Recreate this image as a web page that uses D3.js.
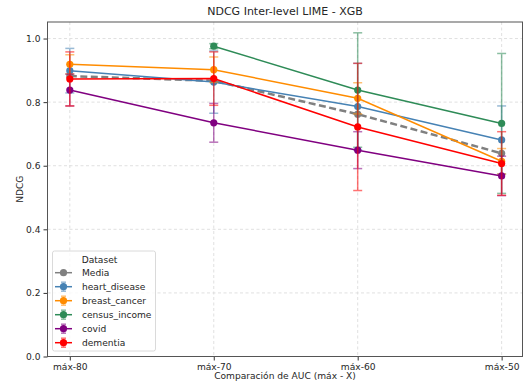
<!DOCTYPE html>
<html>
<head>
<meta charset="utf-8">
<script src="https://cdn.jsdelivr.net/npm/d3@7"></script>
<style>
  body { margin: 0; background: #fff; }
  text { font-family: "DejaVu Sans", sans-serif; fill: #262626; }
</style>
</head>
<body>
<div id="chart"></div>
<script>
// categories on the x axis
const categories = ["máx-80", "máx-70", "máx-60", "máx-50"];

// mean NDCG per dataset (null = no value)
const mediaValues    = [0.882, 0.867, 0.762, 0.639];
const heartValues    = [0.899, 0.863, 0.786, 0.681];
const breastValues   = [0.919, 0.902, 0.812, 0.614];
const censusValues   = [null, 0.976, 0.838, 0.733];
const covidValues    = [0.838, 0.735, 0.649, 0.568];
const dementiaValues = [0.873, 0.874, 0.722, 0.607];

// std deviations (error bars)
const heartStd    = [0.070, 0.098, 0.136, 0.107];
const breastStd   = [0.030, 0.040, 0.049, 0.040];
const censusStd   = [null, 0.008, 0.180, 0.220];
const covidStd    = [0.050, 0.061, 0.058, 0.062];
const dementiaStd = [0.085, 0.084, 0.200, 0.100];

const yTicks = [0.0, 0.2, 0.4, 0.6, 0.8, 1.0];

const series = [
  { name: "Media", values: mediaValues, std: null, color: "#808080", dash: "7,3.5", width: 2.5 },
  { name: "heart_disease", values: heartValues, std: heartStd, color: "#4682b4" },
  { name: "breast_cancer", values: breastValues, std: breastStd, color: "#ff8c00" },
  { name: "census_income", values: censusValues, std: censusStd, color: "#2e8b57" },
  { name: "covid", values: covidValues, std: covidStd, color: "#800080" },
  { name: "dementia", values: dementiaValues, std: dementiaStd, color: "#ff0000" }
];

const W = 528, H = 381;
const mLeft = 47.5, mRight = 522.5, mTop = 22, mBottom = 356.5;

const svg = d3.select("#chart").append("svg")
  .attr("width", W).attr("height", H);

const x = d3.scaleLinear().domain([-0.155, 3.145]).range([mLeft, mRight]);
const y = d3.scaleLinear().domain([0, 1.052]).range([mBottom, mTop]);

// grid
const grid = svg.append("g");
grid.selectAll("line.gx").data(categories).join("line")
  .attr("x1", (d, i) => x(i)).attr("x2", (d, i) => x(i))
  .attr("y1", mTop).attr("y2", mBottom)
  .attr("stroke", "#d8d8d8").attr("stroke-width", 0.8).attr("stroke-dasharray", "3,2.5");
grid.selectAll("line.gy").data(yTicks).join("line")
  .attr("x1", mLeft).attr("x2", mRight)
  .attr("y1", d => y(d)).attr("y2", d => y(d))
  .attr("stroke", "#d8d8d8").attr("stroke-width", 0.8).attr("stroke-dasharray", "3,2.5");

// axes
const xAxis = svg.append("g")
  .attr("transform", `translate(0,${mBottom})`)
  .call(d3.axisBottom(x).tickValues([0, 1, 2, 3]).tickFormat(i => categories[i]).tickSize(4).tickPadding(3));
const yAxis = svg.append("g")
  .attr("transform", `translate(${mLeft},0)`)
  .call(d3.axisLeft(y).tickValues(yTicks).tickFormat(d3.format(".1f")).tickSize(4).tickPadding(3));
[xAxis, yAxis].forEach(a => {
  a.select(".domain").remove();
  a.selectAll("line").attr("stroke", "#333");
  a.selectAll("text").style("font-size", "9.1px").attr("fill", "#262626");
});

// frame
svg.append("rect")
  .attr("x", mLeft).attr("y", mTop)
  .attr("width", mRight - mLeft).attr("height", mBottom - mTop)
  .attr("fill", "none").attr("stroke", "#555").attr("stroke-width", 1);

// series
const plot = svg.append("g");
series.forEach(s => {
  const pts = s.values.map((v, i) => ({ i, v, e: s.std ? s.std[i] : null })).filter(p => p.v !== null);
  const g = plot.append("g");
  if (s.std) {
    const eb = g.append("g").attr("opacity", 0.55).attr("stroke", s.color).attr("stroke-width", 1.5);
    eb.selectAll("line.v").data(pts).join("line")
      .attr("x1", p => x(p.i)).attr("x2", p => x(p.i))
      .attr("y1", p => y(p.v - p.e)).attr("y2", p => y(p.v + p.e));
    eb.selectAll("line.c1").data(pts).join("line")
      .attr("x1", p => x(p.i) - 4.5).attr("x2", p => x(p.i) + 4.5)
      .attr("y1", p => y(p.v + p.e)).attr("y2", p => y(p.v + p.e));
    eb.selectAll("line.c2").data(pts).join("line")
      .attr("x1", p => x(p.i) - 4.5).attr("x2", p => x(p.i) + 4.5)
      .attr("y1", p => y(p.v - p.e)).attr("y2", p => y(p.v - p.e));
  }
  g.append("path").datum(pts)
    .attr("d", d3.line().x(p => x(p.i)).y(p => y(p.v)))
    .attr("fill", "none").attr("stroke", s.color)
    .attr("stroke-width", s.width || 1.5)
    .attr("stroke-dasharray", s.dash || null);
  g.selectAll("circle").data(pts).join("circle")
    .attr("cx", p => x(p.i)).attr("cy", p => y(p.v)).attr("r", 3.6)
    .attr("fill", s.color);
});

// title and labels
svg.append("text").attr("x", (mLeft + mRight) / 2).attr("y", 15)
  .attr("text-anchor", "middle").style("font-size", "11px")
  .text("NDCG Inter-level LIME - XGB");
svg.append("text").attr("x", (mLeft + mRight) / 2).attr("y", 378.5)
  .attr("text-anchor", "middle").style("font-size", "9.1px")
  .text("Comparación de AUC (máx - X)");
svg.append("text")
  .attr("transform", `translate(23,${(mTop + mBottom) / 2}) rotate(-90)`)
  .attr("text-anchor", "middle").style("font-size", "9.1px")
  .text("NDCG");

// legend
const lg = svg.append("g").attr("transform", "translate(52.5,251)");
lg.append("rect").attr("width", 103).attr("height", 100).attr("rx", 2)
  .attr("fill", "#fff").attr("fill-opacity", 0.8)
  .attr("stroke", "#d0d0d0").attr("stroke-width", 0.8);
lg.append("text").attr("x", 47).attr("y", 11.5)
  .attr("text-anchor", "middle").style("font-size", "9.1px").text("Dataset");
series.forEach((s, k) => {
  const cy = 21.7 + k * 14;
  const row = lg.append("g").attr("transform", `translate(0,${cy})`);
  if (s.std) {
    const eg = row.append("g").attr("stroke", s.color).attr("stroke-width", 1.5).attr("opacity", 0.55);
    eg.append("line").attr("x1", 11).attr("x2", 11).attr("y1", -4.5).attr("y2", 4.5);
    eg.append("line").attr("x1", 8.5).attr("x2", 13.5).attr("y1", -4.5).attr("y2", -4.5);
    eg.append("line").attr("x1", 8.5).attr("x2", 13.5).attr("y1", 4.5).attr("y2", 4.5);
  }
  row.append("line").attr("x1", 2.5).attr("x2", 19.5).attr("y1", 0).attr("y2", 0)
    .attr("stroke", s.color).attr("stroke-width", 1.5);
  row.append("circle").attr("cx", 11).attr("cy", 0).attr("r", 3.6).attr("fill", s.color);
  row.append("text").attr("x", 29.5).attr("y", 3.3).style("font-size", "9.1px").text(s.name);
});
</script>
</body>
</html>
